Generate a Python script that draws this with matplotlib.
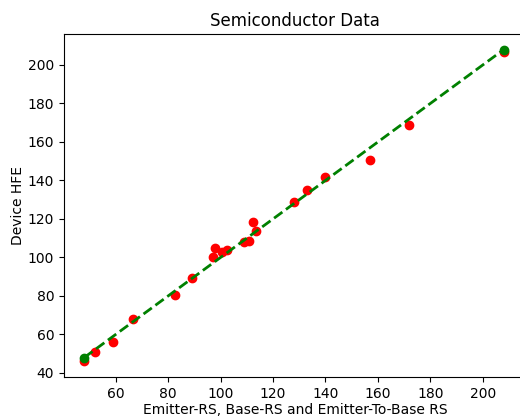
import numpy as np
import matplotlib
matplotlib.use("Agg")
import matplotlib.pyplot as plt

# measured resistance sum vs device hfe
rs_total = [48, 52, 59, 66.5, 82.5, 89, 97, 98, 100.5, 102.5,
            109, 111, 112.5, 113.5, 128, 133, 140, 157, 172, 208]
hfe = [46, 51, 56, 68, 80.5, 89.5, 100, 105, 103, 104,
       108, 108.5, 118.5, 114, 129, 135, 142, 150.5, 169, 207]

# ideal line end points
fit_x = [48, 208]
fit_y = [48, 208]

fig = plt.figure(figsize=(5.2, 4.17), dpi=100)
# right edge of the axes runs off the canvas, like the reference crop
ax = fig.add_axes([64/520, 40/417, 462/520, 343/417])

ax.plot(rs_total, hfe, 'ro')
ax.plot(fit_x, fit_y, 'go--', linewidth=2)

ax.set_xlim(40.3, 216.5)
ax.spines['right'].set_visible(False)
ax.set_title("Semiconductor Data")
ax.set_xlabel("Emitter-RS, Base-RS and Emitter-To-Base RS", labelpad=2)
ax.set_ylabel("Device HFE", labelpad=2)

fig.savefig("out.png", dpi=100)
